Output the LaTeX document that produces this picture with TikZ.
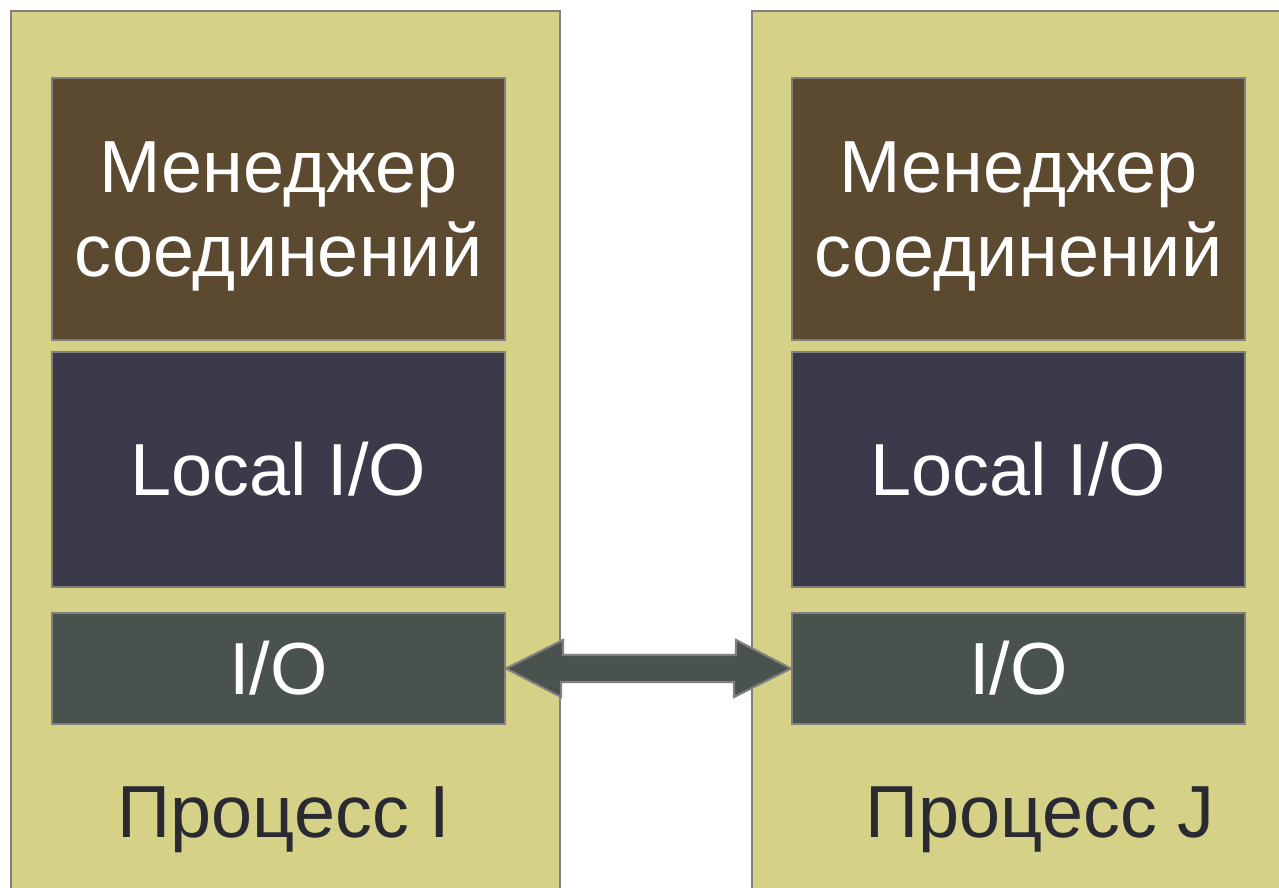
\documentclass[tikz,border=0pt]{standalone}
\usepackage{fontspec}
\setmainfont{Liberation Sans}
\usetikzlibrary{positioning}
\definecolor{procfill}{RGB}{213,210,135}
\definecolor{mgrfill}{RGB}{91,73,48}
\definecolor{localfill}{RGB}{59,58,75}
\definecolor{iofill}{RGB}{74,82,77}
\definecolor{edgegray}{RGB}{128,128,128}
\definecolor{labeltext}{RGB}{42,42,50}
\newcommand{\mgrtext}{\begin{tabular}{@{}c@{}}\rule{0pt}{43.2pt}Менеджер\\соединений\end{tabular}}

\begin{document}
\begin{tikzpicture}[x=0.02cm, y=-0.02cm,
  proc/.style={draw=edgegray, line width=1.2pt, fill=procfill, anchor=north west, inner sep=0pt, minimum width=10.98cm, minimum height=18cm},
  blk/.style={draw=edgegray, line width=1.2pt, minimum width=9.06cm, inner sep=0pt, align=center, text=white, font=\fontsize{42}{48}\selectfont},
  mgr/.style={blk, fill=mgrfill, minimum height=5.24cm},
  local/.style={blk, fill=localfill, minimum height=4.7cm},
  io/.style={blk, fill=iofill, minimum height=2.22cm},
  plabel/.style={text=labeltext, font=\fontsize{42}{48}\selectfont},
  link/.style={draw=edgegray, line width=1.2pt, fill=iofill}]
  \useasboundingbox (0,0) rectangle (1279,888);
  % the two processes
  \node[proc] (procI) at (10,10) {};
  \node[proc] (procJ) at (751,10) {};
  % left column
  \node[mgr] (mgrI) at (278.5,209) {\mgrtext};
  \node[local] (localI) at (278.5,469.5) {Local I/O};
  \node[io] (ioI) at (278.5,668.5) {I/O};
  \node[plabel] (labI) at (284,820) {Процесс I};
  % right column
  \node[mgr] (mgrJ) at (1018.5,209) {\mgrtext};
  \node[local] (localJ) at (1018.5,469.5) {Local I/O};
  \node[io] (ioJ) at (1018.5,668.5) {I/O};
  \node[plabel] (labJ) at (1040,820) {Процесс J};
  % link between I/O layers
  \draw[link] (ioI.east) -- ++(57,-28.5) -- ++(0,15) -- ++(173,0) -- ++(0,-15)
    -- (ioJ.west) -- ++(-57,28.5) -- ++(0,-15) -- ++(-173,0) -- ++(0,15) -- cycle;
\end{tikzpicture}
\end{document}
